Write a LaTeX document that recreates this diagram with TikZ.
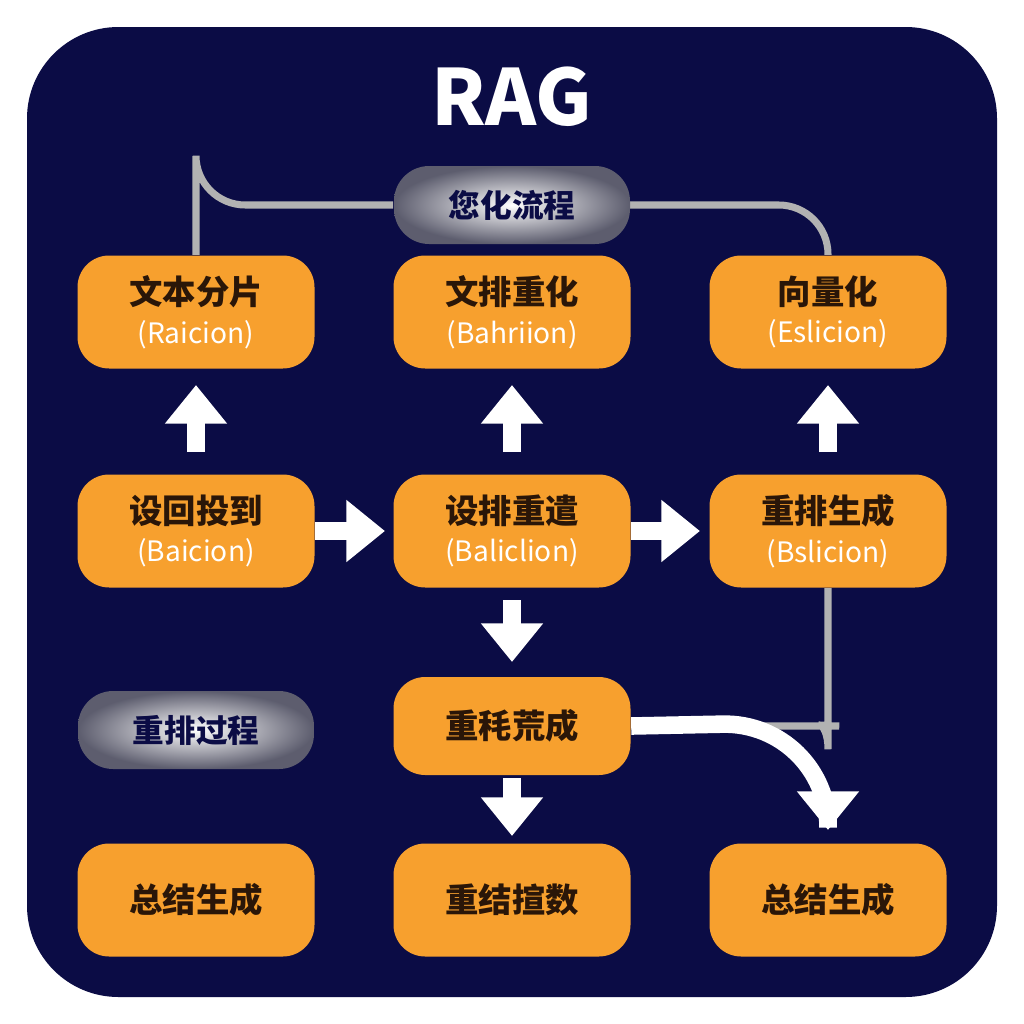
\documentclass[tikz,border=0pt]{standalone}
\usepackage{fontspec}
\setmainfont{Noto Sans CJK SC}
\usetikzlibrary{arrows.meta}
\definecolor{navy}{HTML}{0B0C45}
\definecolor{org}{HTML}{F7A02E}
\definecolor{txt}{HTML}{2A1608}
\tikzset{
 box/.style={fill=org,rounded corners=9pt,minimum width=237*0.01cm,minimum height=113*0.01cm,align=center,text=txt,font=\fontsize{9.5}{12}\selectfont\bfseries,inner sep=0},
 pill/.style={rounded corners=10pt,minimum width=236*0.01cm,minimum height=78*0.01cm,font=\fontsize{9}{11}\selectfont\bfseries,text=navy,inner color=white,outer color=gray!70!navy},
 warr/.style={white,line width=5pt,-{Triangle[length=11pt,width=17pt]}},
 gline/.style={draw=gray!60!white,line width=2pt,rounded corners=14pt},
}
\newcommand{\sub}[1]{\\[-1pt]{\fontsize{8}{10}\selectfont\mdseries\color{white}#1}}
\begin{document}
\begin{tikzpicture}[x=0.01cm,y=-0.01cm]
\fill[white] (0,0) rectangle (1024,1024);
\fill[navy,rounded corners=26pt] (27,27) rectangle (997,997);
\node[text=white,font=\fontsize{22}{26}\selectfont\bfseries] (title) at (512,97) {RAG};
\node[box] (a1) at (196,312) {文本分片\sub{(Raicion)}};
\node[box] (a2) at (512,312) {文排重化\sub{(Bahriion)}};
\node[box] (a3) at (828,312) {向量化\sub{(Eslicion)}};
\node[box] (b1) at (196,531) {设回投到\sub{(Baicion)}};
\node[box] (b2) at (512,531) {设排重遣\sub{(Baliclion)}};
\node[box] (b3) at (828,531) {重排生成\sub{(Bslicion)}};
\node[box,minimum height=98*0.01cm] (c2) at (512,726) {重秏荒成};
\node[box] (d1) at (196,900) {总结生成};
\node[box] (d2) at (512,900) {重结揎数};
\node[box] (d3) at (828,900) {总结生成};
\coordinate (gr) at (828,205);
\coordinate (gl) at (196,205);
\draw[gline] (a1.north) |- (gl) -- (393,205);
\draw[gline] (629,205) -- (gr) -- (a3.north);
\draw[gline] (b3.south) -- (828,700) to[out=-90,in=0] (790,726) -- (c2.east);
\node[pill] (p1) at (512,205) {您化流程};
\node[pill] (p2) at (196,730) {重排过程};
\draw[warr] (196,452) -- (196,385);
\draw[warr] (512,452) -- (512,385);
\draw[warr] (828,452) -- (828,385);
\draw[warr] (b1.east) -- (385,531);
\draw[warr] (b2.east) -- (700,531);
\draw[warr] (512,600) -- (512,662);
\draw[warr] (512,778) -- (512,836);
\draw[warr,rounded corners=30pt] (c2.east) -- (828,722) -- (828,830);
\end{tikzpicture}
\end{document}
